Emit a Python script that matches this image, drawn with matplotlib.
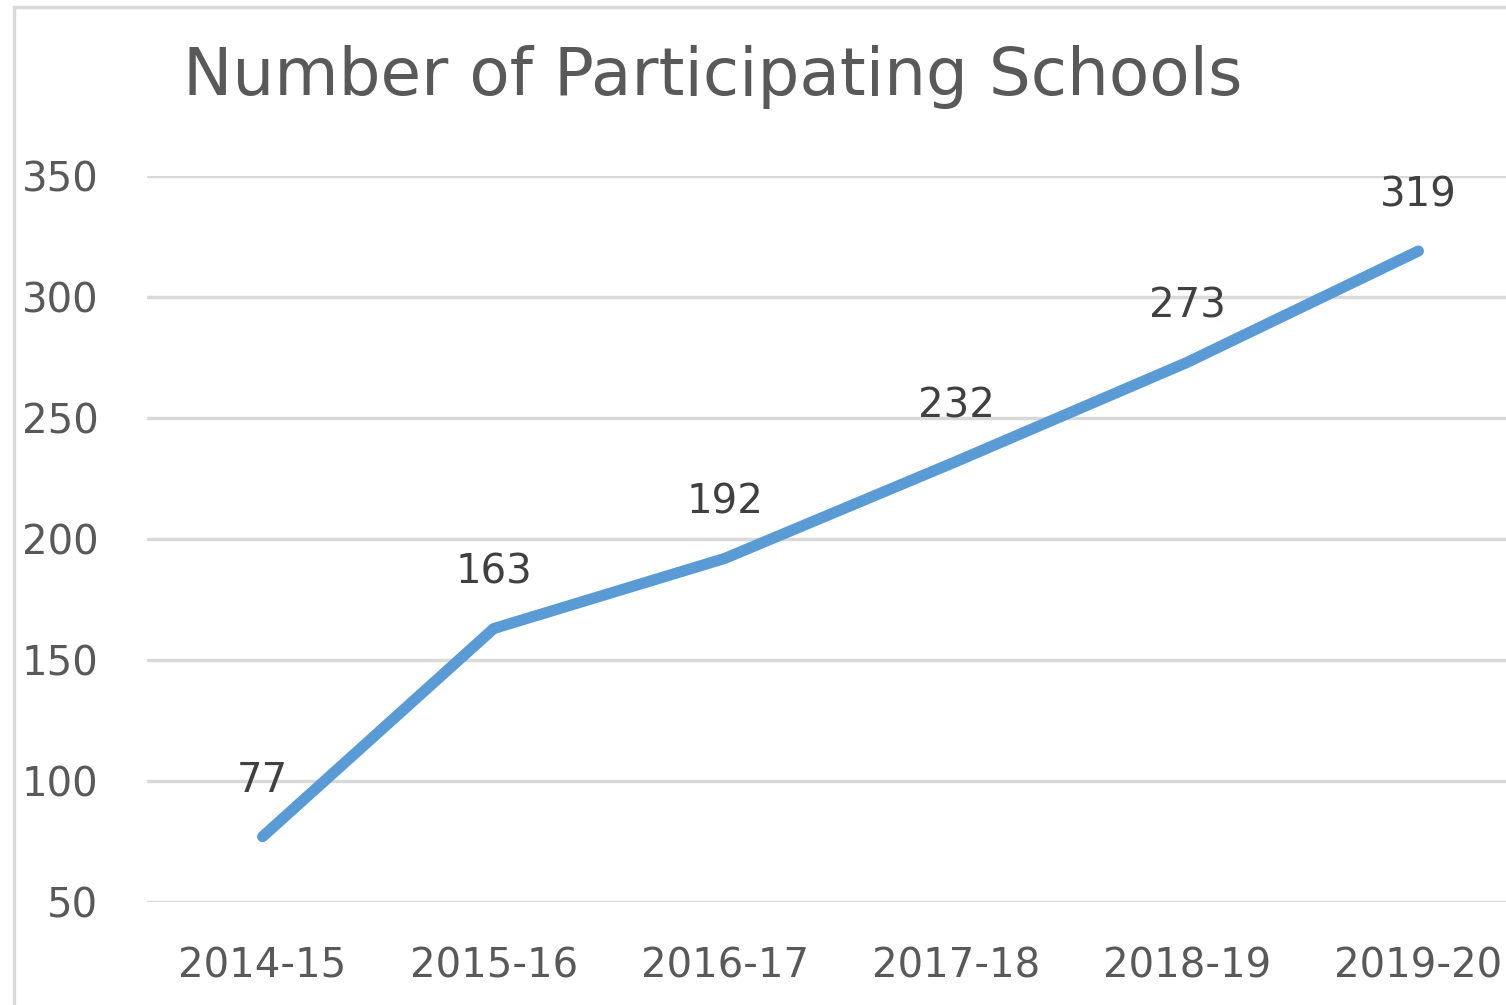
import matplotlib.pyplot as plt
from matplotlib.patches import Rectangle

# data
years = ['2014-15', '2015-16', '2016-17', '2017-18', '2018-19', '2019-20']
schools = [77, 163, 192, 232, 273, 319]
yticks = [50, 100, 150, 200, 250, 300, 350]

plt.rcParams['font.family'] = ['DejaVu Sans']

fig = plt.figure(figsize=(15.06, 10.05), dpi=100)
# axes spills over the right edge, like the cropped original
ax = fig.add_axes([147/1506, 1 - 902/1005, (1534 - 147)/1506, 726/1005])

# chart border (only left/top visible)
fig.patches.append(Rectangle((14/1506, -0.1), 1.2, 1 - 7/1005 + 0.1, transform=fig.transFigure,
                             fill=False, edgecolor='#D9D9D9', linewidth=2.5))

x = list(range(len(years)))
ax.plot(x, schools, color='#5B9BD5', linewidth=8, solid_capstyle='round', solid_joinstyle='round', zorder=3)
for xi, v in zip(x, schools):
    ax.annotate(str(v), (xi, v), xytext=(0, 40), textcoords='offset points',
                ha='center', va='center', fontsize=29, color='#404040')

ax.set_xlim(-0.5, len(years) - 0.5)
ax.set_ylim(50, 350)
ax.set_yticks(yticks)
ax.set_xticks(x)
ax.set_xticklabels(years)
ax.grid(axis='y', color='#D9D9D9', linewidth=2.5)
ax.set_axisbelow(True)
for s in ax.spines.values():
    s.set_visible(False)
ax.tick_params(length=0, labelsize=29, labelcolor='#595959')
ax.tick_params(axis='y', pad=35)
ax.tick_params(axis='x', pad=32)

fig.text(183/1506, 1 - 77/1005, 'Number of Participating Schools', fontsize=47.5,
         color='#595959', ha='left', va='center')

fig.savefig('out.png', dpi=100)
